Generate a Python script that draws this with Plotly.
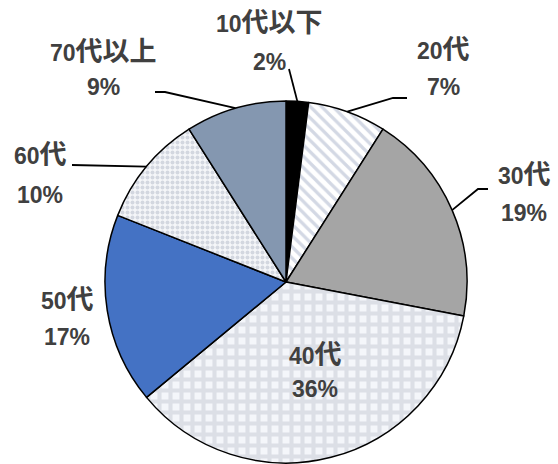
import math
import re
import plotly.graph_objects as go

# Age-group shares (%)
age_groups = ["10代以下", "20代", "30代", "40代", "50代", "60代", "70代以上"]
shares = [2, 7, 19, 36, 17, 10, 9]

# Slice styling
fill_colors = ["#000000", "#FFFFFF", "#A5A5A5", "#F4F6FA", "#4472C4", "#F5F6F9", "#8497B0"]
pattern_shapes = ["", "\\", "", "+", "", ".", ""]
pattern_colors = ["#000000", "#D3D8E4", "#A5A5A5", "#DCDFE6", "#4472C4", "#D3D7E0", "#8497B0"]
pattern_sizes = [8, 8, 8, 11, 8, 5, 8]
pattern_solidity = [0.3, 0.4, 0.3, 0.6, 0.3, 0.5, 0.3]

# Canvas and pie geometry in pixels
W, H = 558, 464
CX, CY, R = 286, 282, 181

# Label placement: (x, name line y, percent line y)
label_pos = {
    "10代以下": (269, 23, 62),
    "20代": (443, 50, 87),
    "30代": (524, 175, 213),
    "40代": (315, 355, 389),
    "50代": (67, 300, 337),
    "60代": (40, 155, 195),
    "70代以上": (103, 52, 87),
}
# Leader line bends (from the slice edge through these points)
leader_bends = {
    "10代以下": [(289, 69)],
    "20代": [(393, 98), (407, 98)],
    "30代": [(478, 189), (488, 189)],
    "60代": [(72, 165)],
    "70代以上": [(165, 92), (155, 92)],
}

LATIN_SIZE = 23
CJK_SIZE = 27


def px(x):
    return x / W


def py(y):
    return 1 - y / H


def styled(text):
    # Japanese characters are set a little larger than the digits
    return re.sub(r"([^\x00-\x7f]+)",
                  lambda m: f"<span style='font-size:{CJK_SIZE}px'>{m.group(1)}</span>",
                  text)


fig = go.Figure(
    go.Pie(
        labels=age_groups,
        values=shares,
        sort=False,
        direction="clockwise",
        rotation=0,
        textinfo="none",
        hoverinfo="label+percent",
        marker=dict(
            colors=fill_colors,
            line=dict(color="#000000", width=1.5),
            pattern=dict(
                shape=pattern_shapes,
                fgcolor=pattern_colors,
                bgcolor=fill_colors,
                size=pattern_sizes,
                solidity=pattern_solidity,
            ),
        ),
        domain=dict(x=[px(CX - R), px(CX + R)], y=[py(CY + R), py(CY - R)]),
        showlegend=False,
    )
)

font_family = "'Liberation Sans', 'Noto Sans CJK JP', sans-serif"
text_color = "#404040"

total = sum(shares)
cum = 0
shapes = []
annotations = []
for name, v in zip(age_groups, shares):
    mid = (cum + v / 2) / total * 2 * math.pi
    cum += v
    edge = (CX + R * math.sin(mid), CY - R * math.cos(mid))

    lx, ny, py_ = label_pos[name]
    for text, ty in ((styled(name), ny), (f"{v}%", py_)):
        annotations.append(dict(
            x=px(lx), y=py(ty), xref="paper", yref="paper", text=text,
            showarrow=False, xanchor="center", yanchor="middle",
            font=dict(family=font_family, size=LATIN_SIZE, color=text_color, weight="bold"),
        ))

    if name in leader_bends:
        pts = [edge] + leader_bends[name]
        path = "M " + " L ".join(f"{px(x):.5f},{py(y):.5f}" for x, y in pts)
        shapes.append(dict(type="path", xref="paper", yref="paper", path=path,
                           line=dict(color="#000000", width=1.8)))

fig.update_layout(
    width=W,
    height=H,
    margin=dict(l=0, r=0, t=0, b=0),
    paper_bgcolor="#FFFFFF",
    plot_bgcolor="#FFFFFF",
    shapes=shapes,
    annotations=annotations,
)

fig.write_html("out.html")
